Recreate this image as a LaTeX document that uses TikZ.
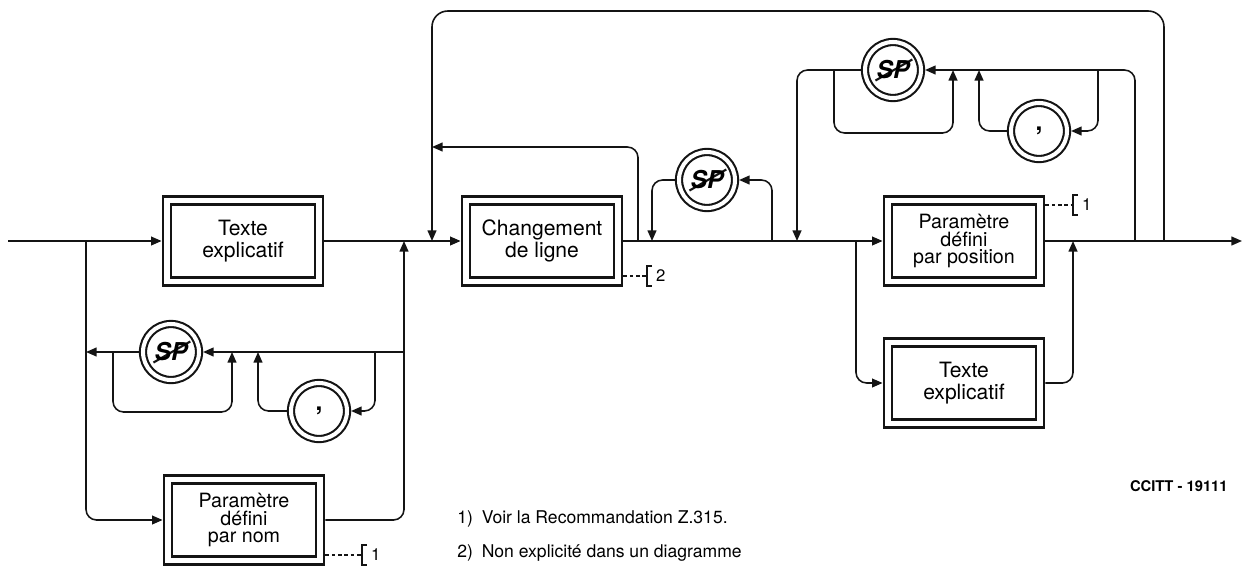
\documentclass[tikz,border=0pt]{standalone}
\usepackage{fontspec}
\setmainfont{TeX Gyre Heros}
\usetikzlibrary{arrows.meta,positioning}
\definecolor{sdlink}{RGB}{20,20,20}
\tikzset{
  sdlbox/.style={
    draw=sdlink, double, line width=1.6pt, double distance=3.0pt,
    minimum width=3.04cm, minimum height=1.62cm, align=center,
    inner sep=2pt, outer sep=3.1pt, font=\fontsize{12}{12.5}\selectfont
  },
  sdlbox3/.style={sdlbox, font=\fontsize{11.2}{10}\selectfont},
  term/.style={
    circle, draw=sdlink, double, line width=1.2pt, double distance=2.3pt,
    minimum size=1.12cm, inner sep=0pt, outer sep=2.3pt,
    font=\fontsize{14}{14}\selectfont\bfseries
  },
  spterm/.style={
    term, font=\fontsize{14}{14}\selectfont\bfseries\itshape,
    path picture={\draw[line width=1.2pt]
      ([shift={(-10pt,-6pt)}]path picture bounding box.center) -- ++(21pt,12pt);}
  },
  arr/.style={-{Triangle[length=6pt,width=5pt]}, draw=sdlink, line width=0.9pt, rounded corners=6pt},
  cdash/.style={draw=sdlink, line width=0.6pt, dash pattern=on 2pt off 1.6pt},
  brk/.style={draw=sdlink, line width=1.1pt},
  cmt/.style={font=\fontsize{9.5}{9.5}\selectfont, inner sep=1pt, anchor=west},
  note/.style={font=\fontsize{10}{12}\selectfont, inner sep=0pt, anchor=west}
}
\begin{document}
\begin{tikzpicture}[x=0.02cm, y=-0.02cm]
  \useasboundingbox (0,0) rectangle (1248,568);

  \coordinate (in) at (8,241);
  \coordinate (s1) at (86,241);
  \node[sdlbox] (txt1) at (243,241) {Texte\\explicatif};
  \node[sdlbox3] (pnom) at (244,520) {Paramètre\\défini\\par nom};
  \coordinate (m1) at (404,241);
  \coordinate (m2) at (432,241);
  \node[sdlbox] (chg) at (542,241) {Changement\\de ligne};
  \coordinate (b1) at (638,241);
  \coordinate (m3) at (652,241);
  \coordinate (b2) at (772,241);
  \coordinate (m4) at (797,241);
  \coordinate (s2) at (856,241);
  \node[sdlbox3] (ppos) at (964,241) {Paramètre\\défini\\par position};
  \node[sdlbox] (txt2) at (964,383) {Texte\\explicatif};
  \coordinate (m5) at (1073,241);
  \coordinate (b3) at (1135,241);
  \coordinate (b4) at (1164,241);
  \coordinate (out) at (1242,241);

  \node[spterm] (sp1) at (171,352) {SP};
  \node[term] (cm1) at (319,411) {,};
  \node[spterm] (sp2) at (707,180) {SP};
  \node[spterm] (sp3) at (893,70) {SP};
  \node[term] (cm2) at (1039,131) {,};

  \coordinate (l1) at (404,352);
  \coordinate (l0) at (86,352);
  \coordinate (k1) at (113,352);
  \coordinate (k2) at (232,352);
  \coordinate (k3) at (375,352);
  \coordinate (k4) at (258,352);
  \coordinate (k5) at (834,70);
  \coordinate (k6) at (953,70);
  \coordinate (k7) at (1098,70);
  \coordinate (k8) at (979,70);
  \coordinate (top) at (432,11);
  \coordinate (r1) at (432,147);

  % main line
  \draw[arr] (in) -- (txt1);
  \draw[arr] (txt1) -- (chg);
  \draw[arr] (chg) -- (ppos);
  \draw[arr] (ppos) -- (out);

  % parameters by name
  \draw[arr] (s1) |- (pnom);
  \draw[arr] (pnom) -| (m1);
  \draw[arr] (l1) -- (sp1);
  \draw[arr] (sp1) -- (l0);
  \draw[arr] (k1) -- ++(0,60) -| (k2);
  \draw[arr] (k3) |- (cm1);
  \draw[arr] (cm1) -| (k4);

  % line change
  \draw[arr, rounded corners=9pt] (b4) |- (top) -- (m2);
  \draw[arr] (b1) |- (r1);
  \draw[arr] (b2) |- (sp2);
  \draw[arr] (sp2) -| (m3);

  % parameters by position
  \draw[arr] (s2) |- (txt2);
  \draw[arr] (txt2) -| (m5);
  \draw[arr] (b3) |- (sp3);
  \draw[arr] (sp3) -| (m4);
  \draw[arr] (k5) -- ++(0,63) -| (k6);
  \draw[arr] (k7) |- (cm2);
  \draw[arr] (cm2) -| (k8);

  \coordinate (c2) at (647,276);
  \coordinate (c1) at (1073,205);
  \coordinate (c3) at (362,555);
  \foreach \b/\c/\t/\n in {chg/c2/2/n2, ppos/c1/1/n1, pnom/c3/1/n3} {
    \draw[cdash] (\b.east |- \c) -- (\c);
    \draw[brk] (\c) ++(5,-10) -- ++(-5,0) -- ++(0,20) -- ++(5,0);
    \node[cmt, right=4pt of \c] (\n) {\t};
  }

  \node[note] (fn1) at (457,519) {1)\enspace Voir la Recommandation Z.315.};
  \node[note] (fn2) at (457,553) {2)\enspace Non explicité dans un diagramme};
  \node[font=\fontsize{8.4}{8.4}\selectfont\bfseries, inner sep=0pt, anchor=east] (ref) at (1228,486) {CCITT - 19111};
\end{tikzpicture}
\end{document}
